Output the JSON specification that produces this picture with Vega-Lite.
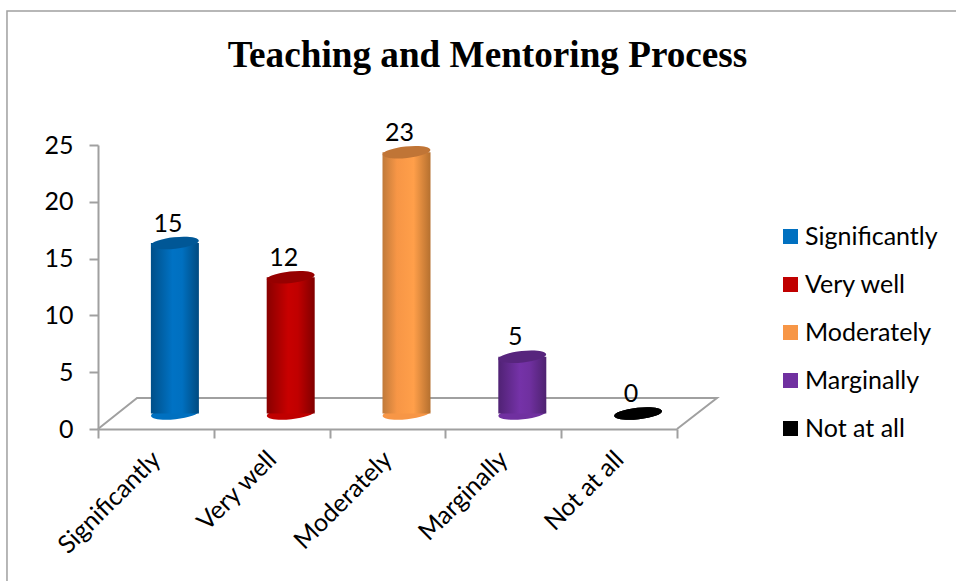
{
"$schema":"https://vega.github.io/schema/vega-lite/v6.json",
"width":579,"height":284,
"autosize":{"type":"none"},
"padding":{"left":98,"top":145,"right":279,"bottom":152},
"background":"white",
"title":{"text":"Teaching and Mentoring Process","font":"Liberation Serif","fontWeight":"bold","fontSize":37.2,"color":"#000000","anchor":"middle","dx":100,"offset":-67},
"config":{"view":{"stroke":null}},
"datasets":{
"cats":[
{"category":"Significantly","value":15},
{"category":"Very well","value":12},
{"category":"Moderately","value":23},
{"category":"Marginally","value":5},
{"category":"Not at all","value":0}],
"floor":[{"i":0,"px":0,"py":0},{"i":1,"px":0.337,"py":2.73},{"i":2,"px":5.345,"py":2.73},{"i":3,"px":5,"py":0}],
"frame":[{"i":0,"px":-0.786,"py":-13.4},{"i":1,"px":-0.786,"py":36.8},{"i":2,"px":7.41,"py":36.8}]
},
"resolve":{"scale":{"x":"independent"}},
"layer":[
{"data":{"name":"floor"},"mark":{"type":"line","color":"#a0a0a0","strokeWidth":2,"clip":false},
 "encoding":{"x":{"field":"px","type":"quantitative","scale":{"domain":[0,5],"nice":false,"zero":false},"axis":null},
 "y":{"field":"py","type":"quantitative"},"order":{"field":"i","type":"quantitative"}}},
{"data":{"name":"frame"},"mark":{"type":"line","color":"#a0a0a0","strokeWidth":1.5,"clip":false},
 "encoding":{"x":{"field":"px","type":"quantitative","scale":{"domain":[0,5],"nice":false,"zero":false},"axis":null},
 "y":{"field":"py","type":"quantitative"},"order":{"field":"i","type":"quantitative"}}},
{"data":{"name":"cats"},
 "encoding":{
  "x":{"field":"category","type":"nominal","sort":null,"scale":{"type":"band","paddingInner":0,"paddingOuter":0},
   "axis":{"title":null,"labelAngle":-45,"labelAlign":"right","labelBaseline":"middle","labelFont":"Lato","labelFontSize":25,"labelColor":"#000000","labelPadding":17,"tickBand":"extent","tickColor":"#a0a0a0","tickWidth":2,"tickSize":9,"domainColor":"#a0a0a0","domainWidth":2,"grid":false,"labelOverlap":false}},
  "y":{"field":"value","type":"quantitative","scale":{"domain":[0,25],"nice":false},
   "axis":{"title":null,"values":[0,5,10,15,20,25],"labelFont":"Lato","labelFontSize":25,"labelColor":"#000000","labelPadding":16,"tickColor":"#a0a0a0","tickWidth":2,"tickSize":9,"domainColor":"#a0a0a0","domainWidth":2,"grid":false}}
 },
 "layer":[
  {"mark":{"type":"point","filled":true,"opacity":1,"size":2304,"xOffset":19,"yOffset":-15.5,"shape":"M-0.995 0.105A1 0.24 -6 1 1 0.995 -0.105A1 0.24 -6 1 1 -0.995 0.105Z"},
   "encoding":{"y":{"datum":0},"color":{"field":"category","type":"nominal","sort":null,
    "scale":{"domain":["Significantly","Very well","Moderately","Marginally","Not at all"],"range":["#0070c0","#c00000","#f79646","#7030a0","#000000"]},
    "legend":{"title":null,"orient":"none","legendX":680,"legendY":79,"symbolType":"square","symbolSize":225,"symbolStrokeWidth":0,"labelFont":"Lato","labelFontSize":25,"labelColor":"#000000","rowPadding":22,"labelOffset":2,"symbolOpacity":1}}}},
  {"transform":[{"filter":"datum.category==='Significantly'"}],"mark":{"type":"bar","size":48,"xOffset":19,"yOffset":-15.5,"fill":{"gradient":"linear","x1":0,"x2":1,"y1":0,"y2":0,"stops":[{"offset":0,"color":"#004f88"},{"offset":0.45,"color":"#0072c4"},{"offset":0.65,"color":"#0070c0"},{"offset":1,"color":"#004a80"}]}}},
  {"transform":[{"filter":"datum.category==='Very well'"}],"mark":{"type":"bar","size":48,"xOffset":19,"yOffset":-15.5,"fill":{"gradient":"linear","x1":0,"x2":1,"y1":0,"y2":0,"stops":[{"offset":0,"color":"#880000"},{"offset":0.45,"color":"#c80000"},{"offset":0.65,"color":"#c00000"},{"offset":1,"color":"#800000"}]}}},
  {"transform":[{"filter":"datum.category==='Moderately'"}],"mark":{"type":"bar","size":48,"xOffset":19,"yOffset":-15.5,"fill":{"gradient":"linear","x1":0,"x2":1,"y1":0,"y2":0,"stops":[{"offset":0,"color":"#c07a3a"},{"offset":0.3,"color":"#f79646"},{"offset":0.65,"color":"#ff9f4a"},{"offset":1,"color":"#b5702f"}]}}},
  {"transform":[{"filter":"datum.category==='Marginally'"}],"mark":{"type":"bar","size":48,"xOffset":19,"yOffset":-15.5,"fill":{"gradient":"linear","x1":0,"x2":1,"y1":0,"y2":0,"stops":[{"offset":0,"color":"#502274"},{"offset":0.45,"color":"#7532a8"},{"offset":0.65,"color":"#7030a0"},{"offset":1,"color":"#4e2270"}]}}},
  {"mark":{"type":"point","filled":true,"opacity":1,"size":2304,"xOffset":19,"yOffset":-15.5,"shape":"M-0.995 0.105A1 0.24 -6 1 1 0.995 -0.105A1 0.24 -6 1 1 -0.995 0.105Z"},
   "encoding":{"color":{"field":"category","type":"nominal","sort":null}}},
  {"mark":{"type":"point","filled":true,"fill":"#000000","opacity":0.22,"size":2304,"xOffset":19,"yOffset":-15.5,"shape":"M-0.995 0.105A1 0.24 -6 1 1 0.995 -0.105A1 0.24 -6 1 1 -0.995 0.105Z"}},
  {"mark":{"type":"text","font":"Lato","fontSize":25,"color":"#000000","baseline":"middle","align":"center","dx":12,"dy":-35},
   "encoding":{"text":{"field":"value","type":"quantitative"}}}
 ]}
]
}
